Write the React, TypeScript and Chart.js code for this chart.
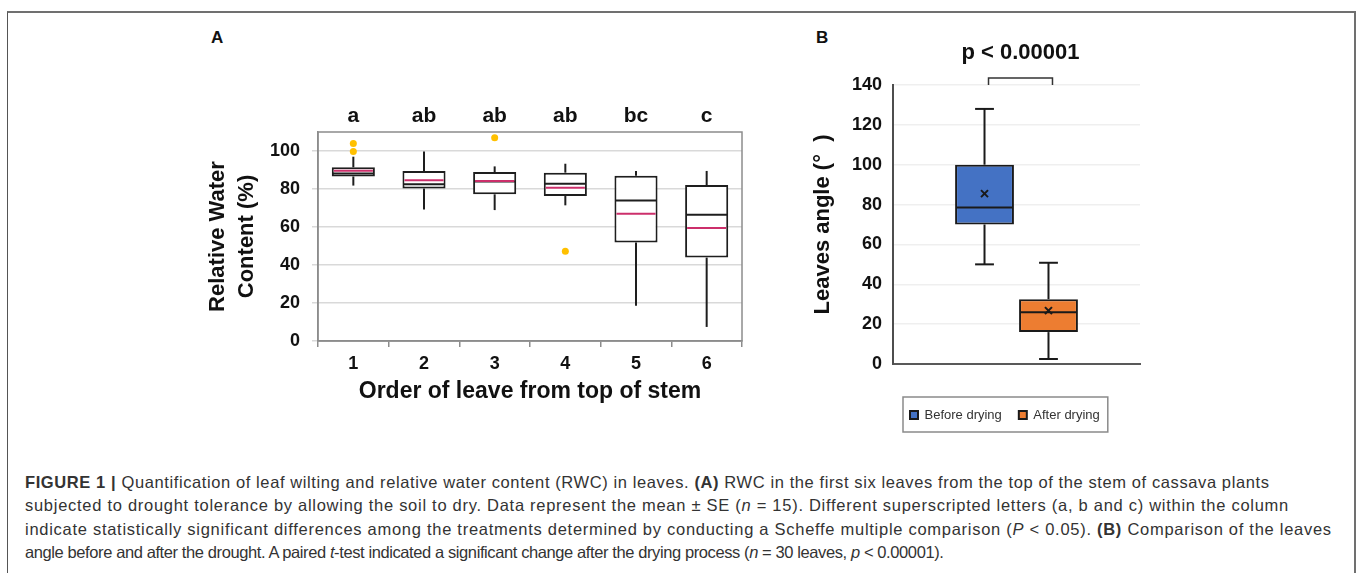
import React, { useEffect, useRef } from 'react';
import { Chart, registerables } from 'chart.js';

Chart.register(...registerables);

const FONT = '"Liberation Sans", Arial, Helvetica, sans-serif';

// ---------- Panel A: relative water content ----------
const leafOrder = ['1', '2', '3', '4', '5', '6'];
const rwcMin = [81.8, 69.2, 68.9, 71.4, 18.6, 7.4];
const rwcQ1 = [86.6, 80.2, 77.2, 76.3, 51.9, 43.9];
const rwcMedian = [88.2, 82.5, 84.0, 82.8, 74.0, 66.5];
const rwcMean = [89.6, 84.6, 84.2, 80.7, 67.0, 59.5];
const rwcQ3 = [91.4, 89.5, 88.9, 88.6, 87.0, 82.1];
const rwcMax = [97.0, 99.8, 91.9, 93.3, 89.5, 89.5];
const rwcOutlierLeaf = ['1', '1', '3', '4'];
const rwcOutlierValue = [103.9, 99.8, 107.0, 47.2];
const rwcLetters = ['a', 'ab', 'ab', 'ab', 'bc', 'c'];

// ---------- Panel B: leaves angle ----------
const angleGroups = ['Before drying', 'After drying'];
const angleColors = ['#4472C4', '#ED7D31'];
const angleMin = [50, 2.5];
const angleQ1 = [70, 16];
const angleMedian = [78.5, 26];
const angleMean = [85.5, 26.8];
const angleQ3 = [100, 32.5];
const angleMax = [128, 50.8];
const pValueText = 'p < 0.00001';
const bracketTop = 143.5;
const bracketFoot = 140;

const INK = '#111111';
const MEAN_PINK = '#CC2F6B';

function seg(ctx: CanvasRenderingContext2D, x1: number, y1: number, x2: number, y2: number) {
  ctx.beginPath();
  ctx.moveTo(x1, y1);
  ctx.lineTo(x2, y2);
  ctx.stroke();
}

const plugA = {
  id: 'boxA',
  beforeDatasetsDraw(chart: any) {
    const { ctx, chartArea } = chart;
    ctx.save();
    ctx.strokeStyle = '#8c8c8c';
    ctx.lineWidth = 1.5;
    ctx.strokeRect(chartArea.left, chartArea.top, chartArea.right - chartArea.left, chartArea.bottom - chartArea.top);
    ctx.restore();
  },
  afterDatasetsDraw(chart: any) {
    const { ctx, chartArea } = chart;
    const y = chart.scales.y;
    const meta = chart.getDatasetMeta(0);
    ctx.save();
    meta.data.forEach((bar: any, i: number) => {
      const x = bar.x;
      const half = bar.width / 2;
      ctx.lineWidth = 2;
      ctx.strokeStyle = '#1e1e1e';
      seg(ctx, x, y.getPixelForValue(rwcQ3[i]), x, y.getPixelForValue(rwcMax[i]));
      seg(ctx, x, y.getPixelForValue(rwcQ1[i]), x, y.getPixelForValue(rwcMin[i]));
      const ym = y.getPixelForValue(rwcMedian[i]);
      seg(ctx, x - half + 1, ym, x + half - 1, ym);
      ctx.strokeStyle = MEAN_PINK;
      const ya = y.getPixelForValue(rwcMean[i]);
      seg(ctx, x - half + 2, ya, x + half - 2, ya);
      ctx.fillStyle = INK;
      ctx.font = `bold 21px ${FONT}`;
      ctx.textAlign = 'center';
      ctx.textBaseline = 'middle';
      ctx.fillText(rwcLetters[i], x, chartArea.top - 16);
    });
    ctx.restore();
  },
};

const plugB = {
  id: 'boxB',
  afterDatasetsDraw(chart: any) {
    const { ctx } = chart;
    const y = chart.scales.y;
    ctx.save();
    ctx.strokeStyle = '#1a1a1a';
    ctx.lineWidth = 2;
    const centers: number[] = [];
    angleGroups.forEach((_, i) => {
      const bar: any = chart.getDatasetMeta(i).data[0];
      const x = bar.x;
      const half = bar.width / 2;
      centers.push(x);
      const cap = bar.width * 0.16;
      const yMax = y.getPixelForValue(angleMax[i]);
      const yMin = y.getPixelForValue(angleMin[i]);
      seg(ctx, x, y.getPixelForValue(angleQ3[i]), x, yMax);
      seg(ctx, x, y.getPixelForValue(angleQ1[i]), x, yMin);
      seg(ctx, x - cap, yMax, x + cap, yMax);
      seg(ctx, x - cap, yMin, x + cap, yMin);
      const ym = y.getPixelForValue(angleMedian[i]);
      seg(ctx, x - half + 1, ym, x + half - 1, ym);
      const ya = y.getPixelForValue(angleMean[i]);
      const s = 3.5;
      seg(ctx, x - s, ya - s, x + s, ya + s);
      seg(ctx, x - s, ya + s, x + s, ya - s);
    });
    // significance bracket
    const yt = y.getPixelForValue(bracketTop);
    const yf = y.getPixelForValue(bracketFoot);
    ctx.strokeStyle = '#333333';
    ctx.lineWidth = 1.5;
    ctx.beginPath();
    ctx.moveTo(centers[0] + 4, yf);
    ctx.lineTo(centers[0] + 4, yt);
    ctx.lineTo(centers[1] + 4, yt);
    ctx.lineTo(centers[1] + 4, yf);
    ctx.stroke();
    ctx.fillStyle = INK;
    ctx.font = `bold 22px ${FONT}`;
    ctx.textAlign = 'center';
    ctx.textBaseline = 'middle';
    ctx.fillText(pValueText, (centers[0] + centers[1]) / 2 + 4, yt - 25);
    ctx.restore();
  },
  afterDraw(chart: any) {
    const lg = chart.legend;
    if (!lg || !lg.legendHitBoxes || !lg.legendHitBoxes.length) return;
    const hb = lg.legendHitBoxes;
    const first = hb[0];
    const last = hb[hb.length - 1];
    const cy = first.top + first.height / 2;
    const { ctx } = chart;
    ctx.save();
    ctx.strokeStyle = '#8a8a8a';
    ctx.lineWidth = 1.5;
    const left = first.left - 7;
    const right = last.left + last.width + 8;
    ctx.strokeRect(left, cy - 18, right - left, 35);
    ctx.restore();
  },
};

function PanelA() {
  const ref = useRef<HTMLCanvasElement>(null);
  useEffect(() => {
    if (!ref.current) return;
    const chart = new Chart(ref.current, {
      type: 'bar',
      data: {
        labels: leafOrder,
        datasets: [
          {
            type: 'bar',
            label: 'RWC',
            data: leafOrder.map((_, i) => [rwcQ1[i], rwcQ3[i]]),
            backgroundColor: '#ffffff',
            borderColor: '#1e1e1e',
            borderWidth: 2,
            borderSkipped: false,
            categoryPercentage: 1,
            barPercentage: 0.61,
            order: 2,
          } as any,
          {
            type: 'line',
            label: 'Outliers',
            data: rwcOutlierLeaf.map((x, i) => ({ x, y: rwcOutlierValue[i] })),
            showLine: false,
            pointRadius: 3.5,
            pointBackgroundColor: '#FFC000',
            pointBorderColor: '#FFC000',
            pointBorderWidth: 0,
            order: 1,
          } as any,
        ],
      },
      options: {
        responsive: false,
        animation: false,
        events: [],
        layout: { padding: { left: 0, right: 18, top: 72, bottom: 0 } },
        plugins: { legend: { display: false }, tooltip: { enabled: false } },
        scales: {
          x: {
            grid: { display: true, drawOnChartArea: false, drawTicks: true, tickLength: 6, color: '#8c8c8c', lineWidth: 1.5, offset: true },
            border: { display: true, color: '#8c8c8c', width: 1.5 },
            ticks: { font: { family: FONT, size: 18, weight: 'bold' }, color: INK, padding: 6 },
            title: {
              display: true,
              text: 'Order of leave from top of stem',
              font: { family: FONT, size: 23, weight: 'bold' },
              color: INK,
              padding: { top: 0, bottom: 15 },
            },
            afterFit: (s: any) => { s.height = 79; },
          },
          y: {
            min: 0,
            max: 110,
            ticks: { stepSize: 20, includeBounds: false, font: { family: FONT, size: 18, weight: 'bold' }, color: INK, padding: 12 },
            grid: { color: '#d9d9d9', lineWidth: 1.5, tickLength: 6 },
            border: { display: true, color: '#8c8c8c', width: 1.5 },
            title: {
              display: true,
              text: ['Relative Water', 'Content (%)'],
              font: { family: FONT, size: 22, weight: 'bold', lineHeight: 1.32 },
              color: INK,
              padding: { top: 13, bottom: 0 },
            },
            afterFit: (s: any) => { s.width = 128; },
          },
        },
      } as any,
      plugins: [plugA],
    });
    return () => chart.destroy();
  }, []);
  return (
    <canvas
      ref={ref}
      width={570}
      height={360}
      style={{ position: 'absolute', left: 190, top: 60, width: 570, height: 360 }}
    />
  );
}

function PanelB() {
  const ref = useRef<HTMLCanvasElement>(null);
  useEffect(() => {
    if (!ref.current) return;
    const chart = new Chart(ref.current, {
      type: 'bar',
      data: {
        labels: [''],
        datasets: angleGroups.map((g, i) => ({
          label: g,
          data: [[angleQ1[i], angleQ3[i]]],
          backgroundColor: angleColors[i],
          borderColor: '#1a1a1a',
          borderWidth: 2,
          borderSkipped: false,
          categoryPercentage: 0.518,
          barPercentage: 0.92,
        })) as any,
      },
      options: {
        responsive: false,
        animation: false,
        events: [],
        layout: { padding: { left: 0, right: 20, top: 65, bottom: 18.5 } },
        plugins: {
          legend: {
            display: true,
            position: 'bottom',
            fullSize: false,
            align: 'start',
            labels: { boxWidth: 8, boxHeight: 8, padding: 17, font: { family: FONT, size: 13 }, color: '#333333' },
          },
          tooltip: { enabled: false },
        },
        scales: {
          x: {
            grid: { display: false },
            border: { display: true, color: '#595959', width: 2 },
            ticks: { display: false },
            afterFit: (s: any) => { s.height = 27.5; },
          },
          y: {
            min: 0,
            max: 140,
            ticks: { stepSize: 20, font: { family: FONT, size: 18, weight: 'bold' }, color: INK, padding: 11 },
            grid: { color: '#efefef', lineWidth: 1.5, drawTicks: false },
            border: { display: true, color: '#4d4d4d', width: 2 },
            title: {
              display: true,
              text: 'Leaves angle (°  )',
              font: { family: FONT, size: 22, weight: 'bold' },
              color: INK,
              padding: { top: 30, bottom: 0 },
            },
            afterFit: (s: any) => { s.width = 113; },
          },
        },
      } as any,
      plugins: [plugB],
    });
    return () => chart.destroy();
  }, []);
  return (
    <canvas
      ref={ref}
      width={380}
      height={430}
      style={{ position: 'absolute', left: 780, top: 20, width: 380, height: 430 }}
    />
  );
}

export default function App() {
  return (
    <div
      style={{
        position: 'fixed',
        left: 0,
        top: 0,
        width: 1358,
        height: 573,
        overflow: 'hidden',
        background: '#ffffff',
        fontFamily: FONT,
      }}
    >
      <div
        style={{
          position: 'absolute',
          left: 7,
          top: 11,
          width: 1349,
          height: 700,
          boxSizing: 'border-box',
          borderTop: '2px solid #707070',
          borderLeft: '1px solid #555555',
          borderRight: '2px solid #707070',
        }}
      />
      <div style={{ position: 'absolute', left: 211, top: 29, fontSize: 17, lineHeight: '17px', fontWeight: 'bold', color: INK }}>A</div>
      <div style={{ position: 'absolute', left: 816, top: 29, fontSize: 17, lineHeight: '17px', fontWeight: 'bold', color: INK }}>B</div>
      <PanelA />
      <PanelB />
      <div
        style={{
          position: 'absolute',
          left: 25,
          top: 471,
          fontSize: 16.5,
          letterSpacing: '0.66px',
          lineHeight: '23.4px',
          color: '#333333',
          whiteSpace: 'nowrap',
        }}
      >
        <span style={{ letterSpacing: '0.6px' }}>
          <b>FIGURE 1 |</b> Quantification of leaf wilting and relative water content (RWC) in leaves. <b>(A)</b> RWC in the first six leaves from the top of the stem of cassava plants
        </span>
        <br />
        <span style={{ letterSpacing: '0.72px' }}>
          subjected to drought tolerance by allowing the soil to dry. Data represent the mean ± SE (<i>n</i> = 15). Different superscripted letters (a, b and c) within the column
        </span>
        <br />
        <span style={{ letterSpacing: '0.72px' }}>
          indicate statistically significant differences among the treatments determined by conducting a Scheffe multiple comparison (<i>P</i> &lt; 0.05). <b>(B)</b> Comparison of the leaves
        </span>
        <br />
        <span style={{ letterSpacing: '-0.4px' }}>
          angle before and after the drought. A paired <i>t</i>-test indicated a significant change after the drying process (<i>n</i> = 30 leaves, <i>p</i> &lt; 0.00001).
        </span>
      </div>
    </div>
  );
}
